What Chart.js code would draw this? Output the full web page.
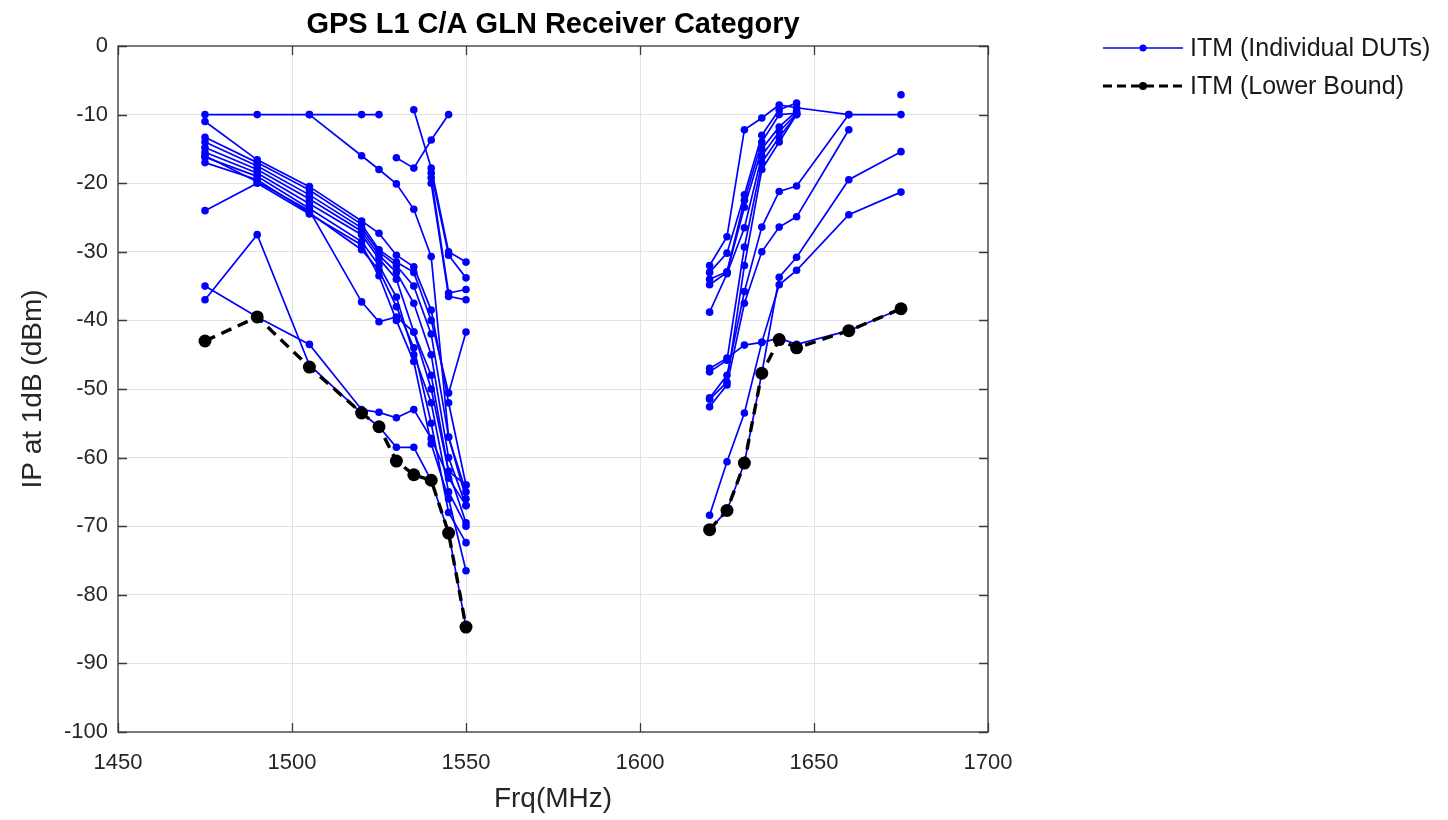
<!DOCTYPE html>
<html>
<head>
<meta charset="utf-8">
<script src="https://cdn.jsdelivr.net/npm/chart.js@4/dist/chart.umd.min.js"></script>
<style>
  html, body { margin: 0; padding: 0; background: #fff; }
  #wrap { width: 1448px; height: 820px; position: relative; }
</style>
</head>
<body>
<div id="wrap"><canvas id="c" width="1448" height="820"></canvas></div>
<script>
// ---------------- DATA ----------------
const chartTitle = 'GPS L1 C/A GLN Receiver Category';
const xAxisTitle = 'Frq(MHz)';
const yAxisTitle = 'IP at 1dB (dBm)';
const legendLabels = ['ITM (Individual DUTs)', 'ITM (Lower Bound)'];

const xTicks = [1450, 1500, 1550, 1600, 1650, 1700];
const yTicks = [0, -10, -20, -30, -40, -50, -60, -70, -80, -90, -100];

const freqLeft = [1475, 1490, 1505, 1520, 1525, 1530, 1535, 1540, 1545, 1550];
const freqRight = [1620, 1625, 1630, 1635, 1640, 1645, 1660, 1675];

const n = null;
// individual DUT curves, lower band (values at freqLeft)
const dutsLeft = [
  [-10, -10, -10, -10, -10, n, n, n, n, n],
  [n, n, -10, -16, -18, -20.1, -23.8, -30.7, -57, -66],
  [n, n, n, n, n, -16.3, -17.8, -13.7, -10, n],
  [n, n, n, n, n, n, -9.3, -17.8, -30, -31.5],
  [n, n, n, n, n, n, n, -18.5, -30.5, -33.8],
  [n, n, n, n, n, n, n, -19.2, -36, -35.5],
  [n, n, n, n, n, n, n, -20, -36.5, -37],
  [-11, -16.6, -20.5, -25.5, -27.3, -30.5, -32.2, -38.5, -52, -64],
  [-13.3, -17, -21, -26, -29.7, -31.5, -33, -40, -50.6, -41.7],
  [-14, -17.5, -21.7, -26.5, -30, -32, -35, -42, -57, -65],
  [-14.8, -18, -22.3, -27, -30.5, -33, -37.5, -45, -60, -67],
  [-15.5, -18.5, -23, -27.5, -31, -34, -41.7, -48, -62, -69.5],
  [-16.2, -19, -23.7, -28.5, -32, -36.6, -45, -52, -65, -70],
  [-17, -19.5, -24.3, -29.7, -32.7, -38, -44, -55, -68, -72.4],
  [-24, -20, -24.5, -29, -33.5, -40, -46, -58, -66, -76.5],
  [-16, -19.8, -24, -37.3, -40.2, -39.5, -41.7, -50, -62, -64],
  [-35, -39.5, -43.5, -53, -53.4, -54.2, -53, -57.2, -63, -67],
  [-37, -27.5, -46.5, -53.5, -55.5, -58.5, -58.5, -63.3, -71, -84.7]
];
// individual DUT curves, upper band (values at freqRight)
const dutsRight = [
  [-32, -27.8, -12.2, -10.5, -8.6, -9, -10, -10],
  [-33, -30.2, -21.7, -13, -9.3, -8.3, n, n],
  [-34, -32.9, -22.5, -14, -10, -9.8, n, n],
  [-34.8, -33, -23.5, -15, -11.8, -9.5, n, n],
  [-38.8, -33.2, -26.5, -16, -12.5, -9.8, n, n],
  [-47.5, -45.8, -29.3, -17, -13.3, -10, n, n],
  [-51.5, -49, -32, -18, -14, -10, n, n],
  [-51.3, -48, -35.8, -26.4, -21.2, -20.4, -10, n],
  [-52.6, -49.4, -37.5, -30, -26.4, -24.9, -12.2, n],
  [-47, -45.5, -43.6, -43.2, -42.6, -43.5, -41.5, -38.3],
  [-68.4, -60.6, -53.5, -43.2, -34.8, -32.7, -24.6, -21.3],
  [-70.5, -67.7, -60.8, -47.7, -33.7, -30.8, -19.5, -15.4],
  [n, n, n, n, n, n, n, -7.1]
];
// lower bound
const lowerLeft = [-43, -39.5, -46.8, -53.5, -55.5, -60.5, -62.5, -63.3, -71, -84.7];
const lowerRight = [-70.5, -67.7, -60.8, -47.7, -42.8, -44, -41.5, -38.3];

// ---------------- STYLE ----------------
const FONT = "'Liberation Sans', Arial, Helvetica, sans-serif";
const BLUE = '#0000ff';
const TXT = '#262626';

function pts(freqs, vals) { return freqs.map((f, i) => ({ x: f, y: vals[i] })); }

const datasets = [];
[[freqLeft, lowerLeft], [freqRight, lowerRight]].forEach(([f, v]) => {
  datasets.push({
    data: pts(f, v), order: 0,
    borderColor: '#000', backgroundColor: '#000', borderWidth: 3.4, borderDash: [11, 7],
    pointRadius: 6.5, pointBackgroundColor: '#000', pointBorderWidth: 0, pointHoverRadius: 6.5,
    spanGaps: false, tension: 0
  });
});
dutsLeft.forEach(v => datasets.push({
  data: pts(freqLeft, v), order: 1,
  borderColor: BLUE, backgroundColor: BLUE, borderWidth: 1.7,
  pointRadius: 3.8, pointBackgroundColor: BLUE, pointBorderWidth: 0, spanGaps: false, tension: 0
}));
dutsRight.forEach(v => datasets.push({
  data: pts(freqRight, v), order: 1,
  borderColor: BLUE, backgroundColor: BLUE, borderWidth: 1.7,
  pointRadius: 3.8, pointBackgroundColor: BLUE, pointBorderWidth: 0, spanGaps: false, tension: 0
}));

const framePlugin = {
  id: 'frame',
  afterDraw(chart) {
    const { ctx, chartArea: a, scales: { x, y } } = chart;
    ctx.save();
    ctx.strokeStyle = '#3a3a3a';
    ctx.lineWidth = 1.3;
    ctx.strokeRect(a.left, a.top, a.right - a.left, a.bottom - a.top);
    const tl = 9;
    ctx.beginPath();
    xTicks.forEach(t => {
      const px = Math.round(x.getPixelForValue(t)) + 0.5;
      ctx.moveTo(px, a.bottom); ctx.lineTo(px, a.bottom - tl);
      ctx.moveTo(px, a.top); ctx.lineTo(px, a.top + tl);
    });
    yTicks.forEach(t => {
      const py = Math.round(y.getPixelForValue(t)) + 0.5;
      ctx.moveTo(a.left, py); ctx.lineTo(a.left + tl, py);
      ctx.moveTo(a.right, py); ctx.lineTo(a.right - tl, py);
    });
    ctx.stroke();
    // title
    ctx.fillStyle = '#000';
    ctx.font = 'bold 29px ' + FONT;
    ctx.textAlign = 'center';
    ctx.textBaseline = 'alphabetic';
    ctx.fillText(chartTitle, (a.left + a.right) / 2, 33);
    // legend
    const lx0 = 1103, lx1 = 1183, tx = 1190;
    const ly = [48, 86];
    ctx.setLineDash([]);
    ctx.strokeStyle = BLUE; ctx.lineWidth = 1.6;
    ctx.beginPath(); ctx.moveTo(lx0, ly[0]); ctx.lineTo(lx1, ly[0]); ctx.stroke();
    ctx.fillStyle = BLUE;
    ctx.beginPath(); ctx.arc((lx0 + lx1) / 2, ly[0], 3.5, 0, Math.PI * 2); ctx.fill();
    ctx.strokeStyle = '#000'; ctx.lineWidth = 3;
    ctx.setLineDash([9, 5]);
    ctx.beginPath(); ctx.moveTo(lx0, ly[1]); ctx.lineTo(lx1, ly[1]); ctx.stroke();
    ctx.setLineDash([]);
    ctx.fillStyle = '#000';
    ctx.beginPath(); ctx.arc((lx0 + lx1) / 2, ly[1], 4, 0, Math.PI * 2); ctx.fill();
    ctx.font = '25px ' + FONT;
    ctx.textAlign = 'left';
    ctx.textBaseline = 'middle';
    ctx.fillStyle = '#1a1a1a';
    ctx.fillText(legendLabels[0], tx, ly[0] + 1);
    ctx.fillText(legendLabels[1], tx, ly[1] + 1);
    ctx.restore();
  }
};

new Chart(document.getElementById('c'), {
  type: 'line',
  data: { datasets },
  plugins: [framePlugin],
  options: {
    responsive: false,
    animation: false,
    devicePixelRatio: 1,
    layout: { padding: { top: 46, right: 460, bottom: 0, left: 0 } },
    plugins: { legend: { display: false }, title: { display: false }, tooltip: { enabled: false } },
    scales: {
      x: {
        type: 'linear', min: 1450, max: 1700,
        afterBuildTicks: s => { s.ticks = xTicks.map(v => ({ value: v })); },
        afterFit: s => { s.height = 88; },
        grid: { color: '#e2e2e2', lineWidth: 1, drawTicks: false },
        border: { display: false },
        ticks: { padding: 18, color: TXT, font: { family: FONT, size: 22 }, maxRotation: 0, autoSkip: false,
                 callback: v => String(v) },
        title: { display: true, text: xAxisTitle, color: TXT, font: { family: FONT, size: 28 }, padding: { top: 0, bottom: 4 } }
      },
      y: {
        type: 'linear', min: -100, max: 0,
        afterBuildTicks: s => { s.ticks = yTicks.map(v => ({ value: v })); },
        afterFit: s => { s.width = 118; },
        grid: { color: '#e2e2e2', lineWidth: 1, drawTicks: false },
        border: { display: false },
        ticks: { padding: 10, color: TXT, font: { family: FONT, size: 22 }, autoSkip: false,
                 callback: v => String(v) },
        title: { display: true, text: yAxisTitle, color: TXT, font: { family: FONT, size: 28 }, padding: { top: 16, bottom: 0 } }
      }
    }
  }
});
</script>
</body>
</html>
